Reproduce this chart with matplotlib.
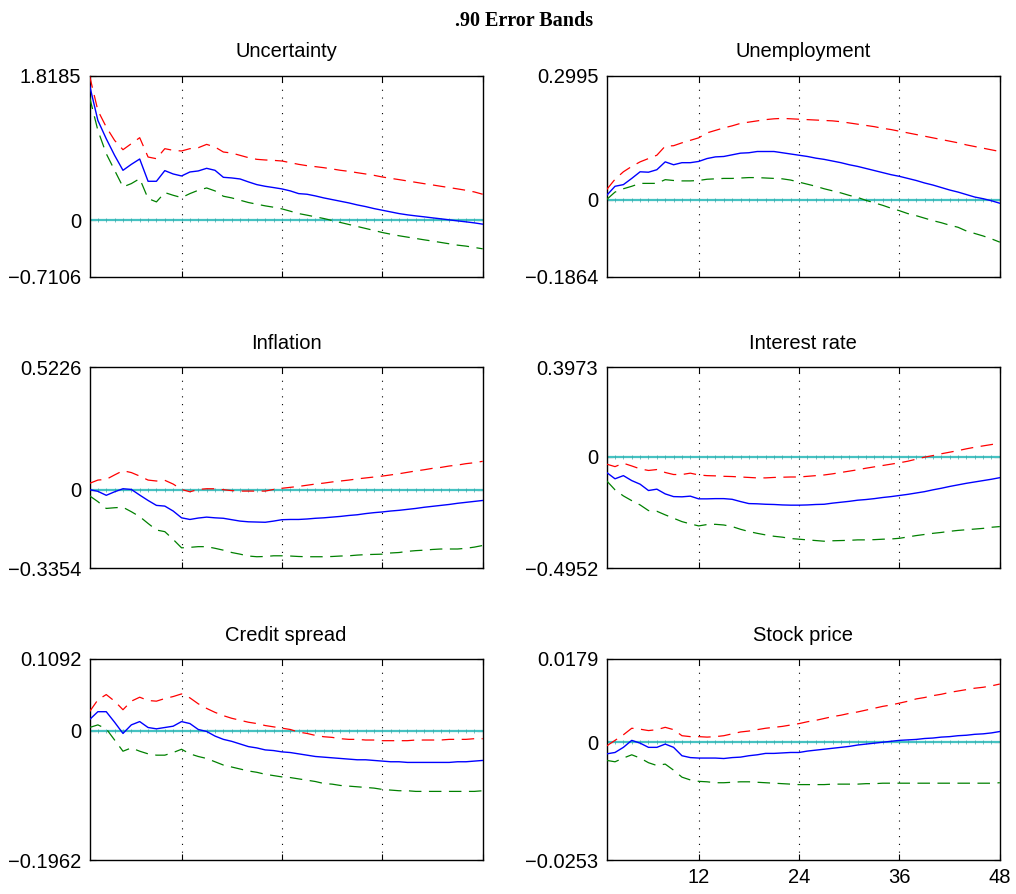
import numpy as np
import matplotlib
matplotlib.use("Agg")
import matplotlib.pyplot as plt

plt.rcParams["font.family"] = ["Liberation Sans", "DejaVu Sans"]

horizon = np.arange(1, 49)

# impulse responses (median, upper and lower .90 bands)
uncertainty_irf = [1.70, 1.254, 1.024, 0.815, 0.627, 0.702, 0.769, 0.489, 0.489, 0.623, 0.581, 0.556,
                   0.606, 0.619, 0.652, 0.627, 0.539, 0.531, 0.518, 0.481, 0.447, 0.426, 0.410, 0.393,
                   0.368, 0.334, 0.326, 0.305, 0.280, 0.259, 0.238, 0.217, 0.192, 0.171, 0.146, 0.125,
                   0.104, 0.083, 0.067, 0.054, 0.042, 0.029, 0.017, 0.004, -0.009, -0.021, -0.034, -0.050]
uncertainty_hi = [1.8185, 1.379, 1.171, 1.003, 0.886, 0.962, 1.037, 0.794, 0.773, 0.899, 0.878, 0.870,
                  0.899, 0.911, 0.953, 0.920, 0.857, 0.844, 0.815, 0.786, 0.765, 0.757, 0.752, 0.744,
                  0.723, 0.702, 0.685, 0.673, 0.660, 0.644, 0.627, 0.614, 0.597, 0.581, 0.564, 0.543,
                  0.526, 0.510, 0.493, 0.476, 0.459, 0.443, 0.426, 0.410, 0.393, 0.376, 0.355, 0.326]
uncertainty_lo = [1.55, 1.129, 0.836, 0.627, 0.418, 0.460, 0.522, 0.272, 0.230, 0.347, 0.313, 0.284,
                  0.334, 0.376, 0.405, 0.368, 0.301, 0.280, 0.251, 0.222, 0.201, 0.180, 0.163, 0.142,
                  0.113, 0.083, 0.063, 0.042, 0.021, -0.004, -0.029, -0.054, -0.079, -0.104, -0.129, -0.155,
                  -0.176, -0.196, -0.213, -0.230, -0.247, -0.263, -0.280, -0.297, -0.314, -0.326, -0.343, -0.360]

unemployment_irf = [0.010, 0.032, 0.036, 0.051, 0.067, 0.066, 0.072, 0.091, 0.084, 0.089, 0.089, 0.092,
                    0.099, 0.103, 0.104, 0.108, 0.112, 0.113, 0.116, 0.116, 0.116, 0.113, 0.110, 0.107,
                    0.104, 0.100, 0.097, 0.093, 0.089, 0.084, 0.080, 0.075, 0.070, 0.065, 0.060, 0.056,
                    0.051, 0.046, 0.040, 0.035, 0.029, 0.023, 0.018, 0.012, 0.006, 0.002, -0.003, -0.009]
unemployment_hi = [0.024, 0.049, 0.067, 0.080, 0.091, 0.099, 0.107, 0.129, 0.130, 0.137, 0.143, 0.149,
                   0.161, 0.167, 0.173, 0.178, 0.184, 0.187, 0.190, 0.193, 0.195, 0.196, 0.195, 0.194,
                   0.193, 0.192, 0.191, 0.190, 0.188, 0.185, 0.182, 0.179, 0.176, 0.172, 0.169, 0.165,
                   0.161, 0.157, 0.153, 0.149, 0.145, 0.141, 0.137, 0.132, 0.128, 0.124, 0.120, 0.116]
unemployment_lo = [0.000, 0.018, 0.026, 0.032, 0.039, 0.039, 0.039, 0.048, 0.046, 0.045, 0.045, 0.046,
                   0.049, 0.050, 0.051, 0.051, 0.052, 0.053, 0.053, 0.052, 0.051, 0.050, 0.047, 0.042,
                   0.037, 0.032, 0.026, 0.021, 0.016, 0.010, 0.005, -0.002, -0.008, -0.014, -0.021, -0.027,
                   -0.034, -0.039, -0.045, -0.051, -0.056, -0.062, -0.067, -0.076, -0.082, -0.088, -0.095, -0.103]

inflation_irf = [0.000, -0.007, -0.024, -0.009, 0.004, 0.001, -0.023, -0.046, -0.067, -0.070, -0.091, -0.120,
                 -0.127, -0.121, -0.117, -0.120, -0.122, -0.128, -0.134, -0.137, -0.138, -0.139, -0.134, -0.128,
                 -0.127, -0.127, -0.125, -0.122, -0.120, -0.117, -0.114, -0.110, -0.107, -0.102, -0.098, -0.095,
                 -0.091, -0.088, -0.084, -0.080, -0.075, -0.071, -0.067, -0.063, -0.058, -0.054, -0.050, -0.046]
inflation_hi = [0.027, 0.041, 0.044, 0.063, 0.081, 0.073, 0.058, 0.041, 0.037, 0.040, 0.024, 0.001,
                -0.009, 0.001, 0.004, 0.004, 0.000, -0.004, -0.006, -0.006, -0.006, -0.006, 0.001, 0.006,
                0.010, 0.014, 0.019, 0.024, 0.028, 0.033, 0.037, 0.041, 0.046, 0.050, 0.054, 0.058,
                0.063, 0.068, 0.074, 0.080, 0.085, 0.091, 0.095, 0.101, 0.105, 0.111, 0.115, 0.121]
inflation_lo = [-0.026, -0.051, -0.080, -0.077, -0.075, -0.094, -0.115, -0.144, -0.172, -0.179, -0.212, -0.248,
                -0.246, -0.243, -0.243, -0.250, -0.258, -0.268, -0.275, -0.283, -0.286, -0.285, -0.282, -0.282,
                -0.283, -0.285, -0.286, -0.286, -0.286, -0.285, -0.283, -0.282, -0.279, -0.277, -0.276, -0.275,
                -0.270, -0.268, -0.263, -0.260, -0.258, -0.255, -0.253, -0.253, -0.253, -0.250, -0.245, -0.238]

interest_irf = [-0.070, -0.098, -0.084, -0.106, -0.122, -0.150, -0.144, -0.165, -0.177, -0.178, -0.175, -0.187,
                -0.187, -0.186, -0.186, -0.189, -0.199, -0.208, -0.209, -0.211, -0.212, -0.214, -0.215, -0.215,
                -0.214, -0.212, -0.211, -0.206, -0.202, -0.198, -0.193, -0.190, -0.186, -0.181, -0.177, -0.172,
                -0.167, -0.161, -0.155, -0.147, -0.140, -0.132, -0.125, -0.118, -0.112, -0.106, -0.100, -0.093]
interest_hi = [-0.033, -0.044, -0.029, -0.041, -0.054, -0.061, -0.057, -0.070, -0.079, -0.079, -0.073, -0.081,
               -0.084, -0.085, -0.087, -0.088, -0.090, -0.092, -0.094, -0.094, -0.092, -0.091, -0.090, -0.090,
               -0.087, -0.084, -0.081, -0.076, -0.070, -0.064, -0.058, -0.051, -0.045, -0.039, -0.033, -0.027,
               -0.020, -0.011, -0.002, 0.005, 0.013, 0.020, 0.027, 0.035, 0.042, 0.048, 0.054, 0.060]
interest_lo = [-0.107, -0.147, -0.174, -0.195, -0.214, -0.239, -0.242, -0.258, -0.273, -0.288, -0.298, -0.307,
               -0.301, -0.300, -0.303, -0.310, -0.322, -0.332, -0.340, -0.347, -0.353, -0.357, -0.363, -0.366,
               -0.369, -0.372, -0.375, -0.373, -0.372, -0.371, -0.369, -0.369, -0.368, -0.366, -0.365, -0.362,
               -0.356, -0.350, -0.345, -0.340, -0.336, -0.331, -0.327, -0.324, -0.321, -0.318, -0.313, -0.310]

spread_irf = [0.017, 0.029, 0.029, 0.013, -0.004, 0.009, 0.014, 0.005, 0.003, 0.005, 0.007, 0.014,
              0.011, 0.002, -0.001, -0.008, -0.013, -0.016, -0.020, -0.024, -0.026, -0.029, -0.030, -0.032,
              -0.033, -0.035, -0.037, -0.039, -0.040, -0.041, -0.042, -0.043, -0.044, -0.044, -0.045, -0.046,
              -0.047, -0.047, -0.048, -0.048, -0.048, -0.048, -0.048, -0.048, -0.047, -0.047, -0.046, -0.045]
spread_hi = [0.029, 0.047, 0.055, 0.045, 0.032, 0.045, 0.051, 0.046, 0.045, 0.049, 0.052, 0.056,
             0.050, 0.041, 0.034, 0.028, 0.023, 0.019, 0.016, 0.013, 0.011, 0.008, 0.006, 0.004,
             0.002, -0.002, -0.004, -0.007, -0.009, -0.010, -0.012, -0.013, -0.013, -0.014, -0.014, -0.015,
             -0.015, -0.015, -0.015, -0.014, -0.014, -0.014, -0.014, -0.013, -0.013, -0.013, -0.012, -0.012]
spread_lo = [0.005, 0.009, 0.003, -0.014, -0.031, -0.026, -0.031, -0.035, -0.037, -0.037, -0.033, -0.028,
             -0.035, -0.039, -0.042, -0.047, -0.052, -0.055, -0.058, -0.061, -0.063, -0.066, -0.068, -0.070,
             -0.071, -0.073, -0.075, -0.077, -0.080, -0.081, -0.083, -0.084, -0.085, -0.086, -0.087, -0.089,
             -0.090, -0.091, -0.091, -0.092, -0.092, -0.092, -0.092, -0.092, -0.092, -0.092, -0.092, -0.091]

stock_irf = [-0.0025, -0.0022, -0.0011, 0.0004, -0.0002, -0.0011, -0.0011, -0.0004, -0.0011, -0.0029, -0.0033, -0.0034,
             -0.0034, -0.0034, -0.0035, -0.0033, -0.0032, -0.0029, -0.0027, -0.0024, -0.0024, -0.0023, -0.0022, -0.0022,
             -0.0019, -0.0017, -0.0015, -0.0013, -0.0011, -0.0009, -0.0006, -0.0004, -0.0002, 0.0000, 0.0002, 0.0004,
             0.0005, 0.0006, 0.0008, 0.0009, 0.0011, 0.0012, 0.0014, 0.0015, 0.0017, 0.0018, 0.0020, 0.0023]
stock_hi = [-0.0008, 0.0004, 0.0016, 0.0030, 0.0028, 0.0025, 0.0027, 0.0032, 0.0027, 0.0014, 0.0012, 0.0012,
            0.0011, 0.0012, 0.0014, 0.0018, 0.0022, 0.0024, 0.0027, 0.0030, 0.0032, 0.0034, 0.0037, 0.0040,
            0.0044, 0.0047, 0.0051, 0.0055, 0.0058, 0.0062, 0.0065, 0.0069, 0.0073, 0.0077, 0.0080, 0.0084,
            0.0088, 0.0093, 0.0096, 0.0100, 0.0103, 0.0107, 0.0110, 0.0113, 0.0116, 0.0118, 0.0121, 0.0125]
stock_lo = [-0.0039, -0.0042, -0.0034, -0.0027, -0.0034, -0.0044, -0.0050, -0.0047, -0.0060, -0.0075, -0.0081, -0.0084,
            -0.0085, -0.0087, -0.0087, -0.0086, -0.0085, -0.0085, -0.0086, -0.0087, -0.0088, -0.0089, -0.0090, -0.0091,
            -0.0091, -0.0091, -0.0091, -0.0090, -0.0090, -0.0090, -0.0090, -0.0089, -0.0089, -0.0088, -0.0088, -0.0088,
            -0.0088, -0.0088, -0.0088, -0.0088, -0.0088, -0.0088, -0.0088, -0.0088, -0.0088, -0.0088, -0.0088, -0.0087]

titles = ["Uncertainty", "Unemployment", "Inflation", "Interest rate", "Credit spread", "Stock price"]
responses = [uncertainty_irf, unemployment_irf, inflation_irf, interest_irf, spread_irf, stock_irf]
upper = [uncertainty_hi, unemployment_hi, inflation_hi, interest_hi, spread_hi, stock_hi]
lower = [uncertainty_lo, unemployment_lo, inflation_lo, interest_lo, spread_lo, stock_lo]
y_limits = [(-0.7106, 1.8185), (-0.1864, 0.2995), (-0.3354, 0.5226),
            (-0.4952, 0.3973), (-0.1962, 0.1092), (-0.0253, 0.0179)]
y_labels = [("\u22120.7106", "0", "1.8185"), ("\u22120.1864", "0", "0.2995"), ("\u22120.3354", "0", "0.5226"),
            ("\u22120.4952", "0", "0.3973"), ("\u22120.1962", "0", "0.1092"), ("\u22120.0253", "0", "0.0179")]
month_ticks = [12, 24, 36, 48]

fig = plt.figure(figsize=(10.16, 8.94), dpi=100)
fig.text(0.516, 0.977, ".90 Error Bands", ha="center", va="center",
         fontfamily="Liberation Serif", fontweight="bold", fontsize=14.5)

lefts = [0.0881, 0.5971]
bottoms = [0.6905, 0.3643, 0.0380]
w, h = 0.3870, 0.2250

for k in range(6):
    row, col = divmod(k, 2)
    ax = fig.add_axes([lefts[col], bottoms[row], w, h])
    lo, hi = y_limits[k]

    for m in month_ticks[:3]:
        ax.axvline(m, color="black", lw=0.8, linestyle=(0, (1, 6)), zorder=1)

    ax.plot(horizon, upper[k], color="#ff0000", lw=0.9, dashes=(10, 6), zorder=3)
    ax.plot(horizon, lower[k], color="#008000", lw=0.9, dashes=(10, 6), zorder=3)
    ax.plot(horizon, responses[k], color="#0000ff", lw=1.0, zorder=4)
    ax.plot(horizon, np.zeros(len(horizon)), color="#45c2c2", lw=1.6,
            marker="|", markersize=2.2, markeredgecolor="#3aa8a8", markeredgewidth=0.5, zorder=2)

    ax.set_xlim(1, 48)
    ax.set_ylim(lo, hi)
    ax.set_yticks([lo, 0, hi])
    ax.set_yticklabels(y_labels[k])
    ax.set_xticks(month_ticks)
    if k == 5:
        ax.set_xticklabels([str(m) for m in month_ticks])
    else:
        ax.set_xticklabels([])
    ax.tick_params(direction="in", length=4, width=0.8, labelsize=14.5, pad=6,
                   top=True, right=True)
    for s in ax.spines.values():
        s.set_linewidth(1.0)
    ax.set_title(titles[k], fontsize=14.5, pad=13)

fig.savefig("out.png", dpi=100)
